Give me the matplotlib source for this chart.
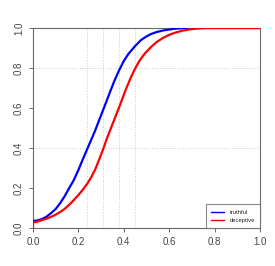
import matplotlib
matplotlib.use('Agg')
import matplotlib.pyplot as plt

FRAME = '#6a6a6a'
LABEL = '#444444'
GRID = '#c8c8c8'

# cumulative curves
truthful_x = [0.0, 0.02, 0.04, 0.06, 0.08, 0.1, 0.12, 0.14, 0.163, 0.18, 0.2, 0.22,
              0.239, 0.256, 0.273, 0.29, 0.314, 0.341, 0.36, 0.38, 0.4, 0.42, 0.45,
              0.476, 0.5, 0.52, 0.545, 0.575, 0.604, 0.63, 0.66, 0.7, 1.0]
truthful_y = [0.035, 0.038, 0.045, 0.057, 0.075, 0.095, 0.125, 0.16, 0.207, 0.24,
              0.29, 0.345, 0.395, 0.44, 0.485, 0.535, 0.605, 0.685, 0.74, 0.79, 0.835,
              0.87, 0.91, 0.94, 0.958, 0.97, 0.98, 0.988, 0.993, 0.997, 0.999, 1.0, 1.0]

deceptive_x = [0.0, 0.0, 0.02, 0.04, 0.06, 0.08, 0.1, 0.12, 0.14, 0.163, 0.18, 0.2,
               0.22, 0.239, 0.256, 0.273, 0.29, 0.311, 0.323, 0.347, 0.38, 0.408,
               0.43, 0.451, 0.47, 0.493, 0.52, 0.545, 0.575, 0.604, 0.63, 0.66,
               0.69, 0.72, 0.76, 1.0]
deceptive_y = [0.0, 0.028, 0.032, 0.04, 0.047, 0.056, 0.067, 0.08, 0.096, 0.12,
               0.14, 0.165, 0.192, 0.222, 0.253, 0.29, 0.338, 0.40, 0.44, 0.51, 0.605,
               0.69, 0.75, 0.80, 0.838, 0.873, 0.905, 0.93, 0.952, 0.968, 0.978,
               0.987, 0.993, 0.997, 1.0, 1.0]

cut_x = [0.24, 0.31, 0.38, 0.45]
cut_y = [0.4, 0.8]
ticks = [0.0, 0.2, 0.4, 0.6, 0.8, 1.0]

plt.rcParams['font.family'] = ['Liberation Sans', 'DejaVu Sans']

fig = plt.figure(figsize=(2.75, 2.66), dpi=100, facecolor='white')
ax = fig.add_axes([33 / 275, 38 / 266, 227 / 275, 200 / 266])

for x in cut_x:
    ax.axvline(x, color=GRID, linestyle=':', linewidth=0.7, zorder=1)
for y in cut_y:
    ax.axhline(y, color=GRID, linestyle=':', linewidth=0.7, zorder=1)

ax.plot(truthful_x, truthful_y, color='#0000ff', linewidth=1.6, label='truthful', zorder=3)
ax.plot(deceptive_x, deceptive_y, color='#ff0000', linewidth=1.6, label='deceptive', zorder=3)

ax.set_xlim(0, 1)
ax.set_ylim(0, 1)
ax.set_xticks(ticks)
ax.set_yticks(ticks)
ax.set_xticklabels([f'{t:.1f}' for t in ticks])
ax.set_yticklabels([f'{t:.1f}' for t in ticks], rotation=90, va='center')
ax.tick_params(axis='both', direction='out', length=3, width=0.7, color=FRAME,
               labelsize=7, labelcolor=LABEL, pad=3.5)
for sp in ax.spines.values():
    sp.set_color(FRAME)
    sp.set_linewidth(0.8)

leg = ax.legend(loc='lower right', borderaxespad=0, fontsize=4.2, frameon=True,
                fancybox=False, handlelength=2.2, handletextpad=0.9,
                borderpad=0.9, labelspacing=0.5)
leg.get_frame().set_edgecolor(FRAME)
leg.get_frame().set_linewidth(0.8)
for line in leg.get_lines():
    line.set_linewidth(1.0)
for txt in leg.get_texts():
    txt.set_color('#222222')

fig.savefig('out.png', dpi=100, facecolor='white')
